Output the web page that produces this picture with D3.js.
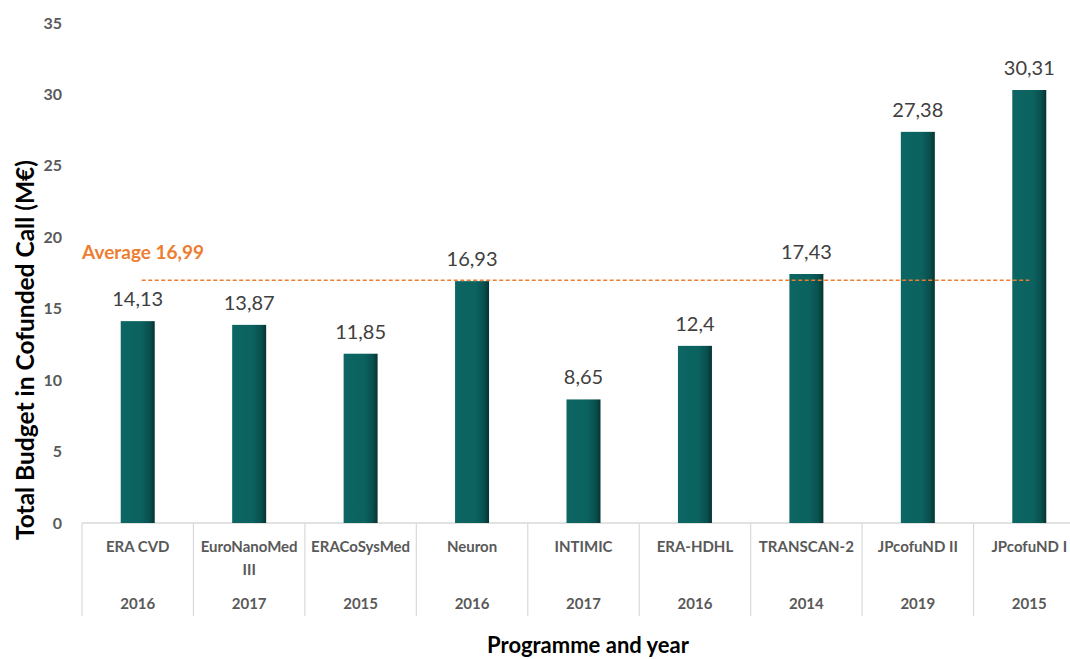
<!DOCTYPE html>
<html>
<head>
<meta charset="utf-8">
<script src="https://cdn.jsdelivr.net/npm/d3@7"></script>
<style>
  body { margin: 0; background: #fff; }
  svg { display: block; font-family: Lato, "Open Sans", sans-serif; }
</style>
</head>
<body>
<svg id="chart"></svg>
<script>
const programmes = ["ERA CVD", "EuroNanoMed III", "ERACoSysMed", "Neuron", "INTIMIC", "ERA-HDHL", "TRANSCAN-2", "JPcofuND II", "JPcofuND I"];
const years = ["2016", "2017", "2015", "2016", "2017", "2016", "2014", "2019", "2015"];
const budgets = [14.13, 13.87, 11.85, 16.93, 8.65, 12.4, 17.43, 27.38, 30.31];
const average = 16.99;
const yTicks = [0, 5, 10, 15, 20, 25, 30, 35];

const width = 1070, height = 659;
const margin = { top: 23, right: -15, bottom: 136, left: 82 };

const svg = d3.select("#chart").attr("width", width).attr("height", height);

const x = d3.scaleBand()
  .domain(programmes)
  .range([margin.left, width - margin.right])
  .padding(0);

const y = d3.scaleLinear()
  .domain([0, 35])
  .range([height - margin.bottom, margin.top]);

const fmt = (v) => String(v).replace(".", ",");

// gradient for the bars
const grad = svg.append("defs").append("linearGradient")
  .attr("id", "barGrad")
  .attr("x1", "0%").attr("x2", "100%").attr("y1", "0%").attr("y2", "0%");
grad.append("stop").attr("offset", "0%").attr("stop-color", "#0c6663");
grad.append("stop").attr("offset", "60%").attr("stop-color", "#0b625f");
grad.append("stop").attr("offset", "85%").attr("stop-color", "#09504d");
grad.append("stop").attr("offset", "100%").attr("stop-color", "#043432");

// y axis labels
const yAxis = d3.axisLeft(y).tickValues(yTicks).tickSize(0).tickPadding(20);
svg.append("g")
  .attr("transform", `translate(${margin.left},0)`)
  .call(yAxis)
  .call((g) => g.select(".domain").remove())
  .selectAll("text")
  .attr("font-family", "Lato, sans-serif")
  .attr("font-size", "16px")
  .attr("font-weight", "bold")
  .attr("fill", "#595959");

// category axis: baseline + separators
const y0 = y(0);
svg.append("line")
  .attr("x1", margin.left).attr("x2", width)
  .attr("y1", y0).attr("y2", y0)
  .attr("stroke", "#d9d9d9").attr("stroke-width", 1.5);

const bounds = programmes.map((p) => x(p)).concat([x(programmes[programmes.length - 1]) + x.bandwidth()]);
svg.selectAll(".sep")
  .data(bounds)
  .enter()
  .append("line")
  .attr("class", "sep")
  .attr("x1", (d) => d).attr("x2", (d) => d)
  .attr("y1", y0).attr("y2", y0 + 93)
  .attr("stroke", "#d9d9d9").attr("stroke-width", 1.2);

// bars
const barWidth = x.bandwidth() * 0.305;
svg.selectAll(".bar")
  .data(budgets)
  .enter()
  .append("rect")
  .attr("class", "bar")
  .attr("x", (d, i) => x(programmes[i]) + (x.bandwidth() - barWidth) / 2)
  .attr("y", (d) => y(d))
  .attr("width", barWidth)
  .attr("height", (d) => y0 - y(d))
  .attr("fill", "url(#barGrad)");

// value labels
svg.selectAll(".val")
  .data(budgets)
  .enter()
  .append("text")
  .attr("class", "val")
  .attr("x", (d, i) => x(programmes[i]) + x.bandwidth() / 2)
  .attr("y", (d) => y(d) - 15)
  .attr("text-anchor", "middle")
  .attr("font-size", "20px")
  .attr("fill", "#404040")
  .text((d) => fmt(d));

// programme labels (wrapped to band)
const progText = svg.selectAll(".prog")
  .data(programmes)
  .enter()
  .append("text")
  .attr("class", "prog")
  .attr("x", (d) => x(d) + x.bandwidth() / 2)
  .attr("y", y0 + 29)
  .attr("text-anchor", "middle")
  .attr("font-size", "15px")
  .attr("font-weight", "bold")
  .attr("fill", "#595959");

progText.each(function (d) {
  const t = d3.select(this);
  const cx = x(d) + x.bandwidth() / 2;
  const words = d.split(" ");
  let line = [];
  let tspan = t.append("tspan").attr("x", cx).attr("dy", 0);
  words.forEach((w) => {
    line.push(w);
    tspan.text(line.join(" "));
    if (tspan.node().getComputedTextLength() > x.bandwidth() - 2 && line.length > 1) {
      line.pop();
      tspan.text(line.join(" "));
      line = [w];
      tspan = t.append("tspan").attr("x", cx).attr("dy", "1.5em").text(w);
    }
  });
});

// year labels
svg.selectAll(".year")
  .data(years)
  .enter()
  .append("text")
  .attr("class", "year")
  .attr("x", (d, i) => x(programmes[i]) + x.bandwidth() / 2)
  .attr("y", y0 + 86)
  .attr("text-anchor", "middle")
  .attr("font-size", "15px")
  .attr("font-weight", "bold")
  .attr("fill", "#595959")
  .text((d) => d);

// average line
const xFirst = x(programmes[0]) + x.bandwidth() / 2 + 4;
const xLast = x(programmes[programmes.length - 1]) + x.bandwidth() / 2;
svg.append("line")
  .attr("x1", xFirst).attr("x2", xLast)
  .attr("y1", y(average)).attr("y2", y(average))
  .attr("stroke", "#ed7d31")
  .attr("stroke-width", 1.5)
  .attr("stroke-dasharray", "4,2.5");

svg.append("text")
  .attr("x", 82)
  .attr("y", y(average) - 21)
  .attr("font-size", "19px")
  .attr("font-weight", "bold")
  .attr("fill", "#ed7d31")
  .text("Average " + fmt(average));

// axis titles
svg.append("text")
  .attr("transform", `translate(34, 350) rotate(-90)`)
  .attr("text-anchor", "middle")
  .attr("font-size", "24.5px")
  .attr("font-weight", "bold")
  .attr("fill", "#000")
  .text("Total Budget in Cofunded Call (M€)");

svg.append("text")
  .attr("x", 588)
  .attr("y", 653)
  .attr("text-anchor", "middle")
  .attr("font-size", "22px")
  .attr("font-weight", "bold")
  .attr("fill", "#000")
  .text("Programme and year");
</script>
</body>
</html>
